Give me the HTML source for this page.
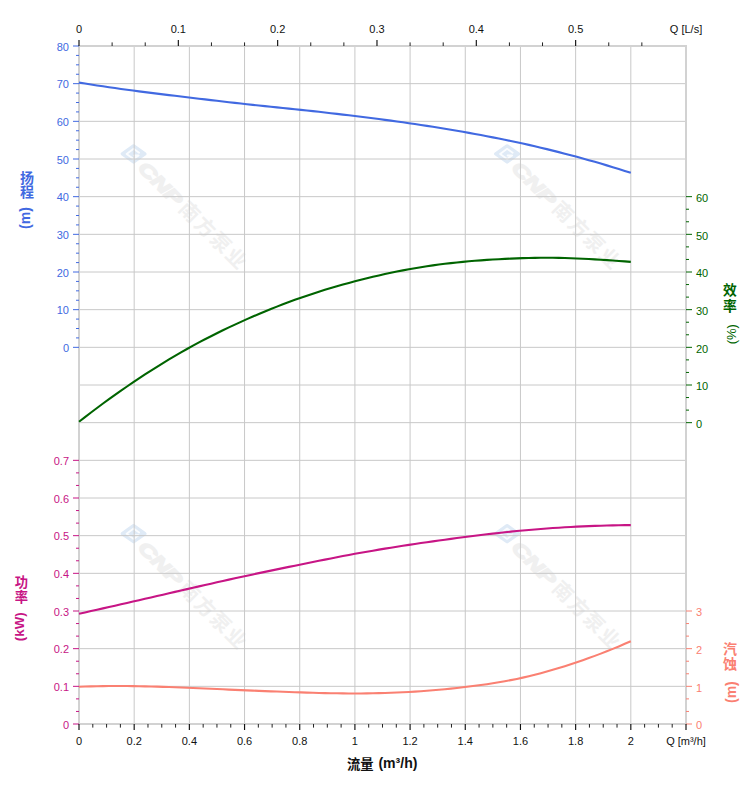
<!DOCTYPE html>
<html><head><meta charset="utf-8"><title>Pump curve</title>
<style>html,body{margin:0;padding:0;background:#fff}body{width:752px;height:797px;overflow:hidden}svg{display:block}text{font-family:"Liberation Sans","Noto Sans CJK SC",sans-serif}</style></head><body>
<svg width="752" height="797" viewBox="0 0 752 797">
<rect width="752" height="797" fill="#ffffff"/>
<g transform="translate(133.6,153.9)"><path d="M-11.2,0L0,-7.9L11.2,0L0,7.9Z" fill="#dfeaf6" stroke="#dfeaf6" stroke-width="3.6" stroke-linejoin="round"/><path d="M5.5,-1.2L0,-5.2L-7,0L0,5.2L5,1.6H0.5" fill="none" stroke="#ffffff" stroke-width="1.9" stroke-linejoin="round" stroke-linecap="round" opacity="0.85"/></g><g transform="translate(133.6,153.9) rotate(45)"><text x="13" y="8.2" font-size="18" font-weight="bold" font-style="italic" fill="#f0f0f0" stroke="#f0f0f0" stroke-width="1.5" textLength="54" lengthAdjust="spacingAndGlyphs">CNP</text><text x="70.6" y="8.4" font-size="20" font-weight="bold" fill="#f0f0f0" letter-spacing="1.9">南方泵业</text></g>
<g transform="translate(507.1,153.9)"><path d="M-11.2,0L0,-7.9L11.2,0L0,7.9Z" fill="#dfeaf6" stroke="#dfeaf6" stroke-width="3.6" stroke-linejoin="round"/><path d="M5.5,-1.2L0,-5.2L-7,0L0,5.2L5,1.6H0.5" fill="none" stroke="#ffffff" stroke-width="1.9" stroke-linejoin="round" stroke-linecap="round" opacity="0.85"/></g><g transform="translate(507.1,153.9) rotate(45)"><text x="13" y="8.2" font-size="18" font-weight="bold" font-style="italic" fill="#f0f0f0" stroke="#f0f0f0" stroke-width="1.5" textLength="54" lengthAdjust="spacingAndGlyphs">CNP</text><text x="70.6" y="8.4" font-size="20" font-weight="bold" fill="#f0f0f0" letter-spacing="1.9">南方泵业</text></g>
<g transform="translate(133.6,533.7)"><path d="M-11.2,0L0,-7.9L11.2,0L0,7.9Z" fill="#dfeaf6" stroke="#dfeaf6" stroke-width="3.6" stroke-linejoin="round"/><path d="M5.5,-1.2L0,-5.2L-7,0L0,5.2L5,1.6H0.5" fill="none" stroke="#ffffff" stroke-width="1.9" stroke-linejoin="round" stroke-linecap="round" opacity="0.85"/></g><g transform="translate(133.6,533.7) rotate(45)"><text x="13" y="8.2" font-size="18" font-weight="bold" font-style="italic" fill="#f0f0f0" stroke="#f0f0f0" stroke-width="1.5" textLength="54" lengthAdjust="spacingAndGlyphs">CNP</text><text x="70.6" y="8.4" font-size="20" font-weight="bold" fill="#f0f0f0" letter-spacing="1.9">南方泵业</text></g>
<g transform="translate(507.1,533.7)"><path d="M-11.2,0L0,-7.9L11.2,0L0,7.9Z" fill="#dfeaf6" stroke="#dfeaf6" stroke-width="3.6" stroke-linejoin="round"/><path d="M5.5,-1.2L0,-5.2L-7,0L0,5.2L5,1.6H0.5" fill="none" stroke="#ffffff" stroke-width="1.9" stroke-linejoin="round" stroke-linecap="round" opacity="0.85"/></g><g transform="translate(507.1,533.7) rotate(45)"><text x="13" y="8.2" font-size="18" font-weight="bold" font-style="italic" fill="#f0f0f0" stroke="#f0f0f0" stroke-width="1.5" textLength="54" lengthAdjust="spacingAndGlyphs">CNP</text><text x="70.6" y="8.4" font-size="20" font-weight="bold" fill="#f0f0f0" letter-spacing="1.9">南方泵业</text></g>
<path d="M79.0,83.67H686.0M79.0,121.33H686.0M79.0,159.00H686.0M79.0,196.67H686.0M79.0,234.33H686.0M79.0,272.00H686.0M79.0,309.67H686.0M79.0,347.33H686.0M79.0,385.00H686.0M79.0,422.67H686.0M79.0,460.33H686.0M79.0,498.00H686.0M79.0,535.67H686.0M79.0,573.33H686.0M79.0,611.00H686.0M79.0,648.67H686.0M79.0,686.33H686.0M134.18,46.0V724.0M189.36,46.0V724.0M244.55,46.0V724.0M299.73,46.0V724.0M354.91,46.0V724.0M410.09,46.0V724.0M465.27,46.0V724.0M520.45,46.0V724.0M575.64,46.0V724.0M630.82,46.0V724.0" stroke="#c8c8c8" stroke-width="1" fill="none"/>
<rect x="79.0" y="46.0" width="607.0" height="678.0" fill="none" stroke="#d2d2d2" stroke-width="2"/>
<path d="M79.0,46.00h-6M79.0,55.42h-3M79.0,64.83h-3M79.0,74.25h-3M79.0,83.67h-6M79.0,93.08h-3M79.0,102.50h-3M79.0,111.92h-3M79.0,121.33h-6M79.0,130.75h-3M79.0,140.17h-3M79.0,149.58h-3M79.0,159.00h-6M79.0,168.42h-3M79.0,177.83h-3M79.0,187.25h-3M79.0,196.67h-6M79.0,206.08h-3M79.0,215.50h-3M79.0,224.92h-3M79.0,234.33h-6M79.0,243.75h-3M79.0,253.17h-3M79.0,262.58h-3M79.0,272.00h-6M79.0,281.42h-3M79.0,290.83h-3M79.0,300.25h-3M79.0,309.67h-6M79.0,319.08h-3M79.0,328.50h-3M79.0,337.92h-3M79.0,347.33h-6" stroke="#4169e1" stroke-width="1" fill="none"/>
<path d="M79.0,460.33h-6M79.0,472.89h-3M79.0,485.44h-3M79.0,498.00h-6M79.0,510.56h-3M79.0,523.11h-3M79.0,535.67h-6M79.0,548.22h-3M79.0,560.78h-3M79.0,573.33h-6M79.0,585.89h-3M79.0,598.44h-3M79.0,611.00h-6M79.0,623.56h-3M79.0,636.11h-3M79.0,648.67h-6M79.0,661.22h-3M79.0,673.78h-3M79.0,686.33h-6M79.0,698.89h-3M79.0,711.44h-3M79.0,724.00h-6" stroke="#c71585" stroke-width="1" fill="none"/>
<path d="M686.0,196.67h6M686.0,209.22h3M686.0,221.78h3M686.0,234.33h6M686.0,246.89h3M686.0,259.44h3M686.0,272.00h6M686.0,284.56h3M686.0,297.11h3M686.0,309.67h6M686.0,322.22h3M686.0,334.78h3M686.0,347.33h6M686.0,359.89h3M686.0,372.44h3M686.0,385.00h6M686.0,397.56h3M686.0,410.11h3M686.0,422.67h6" stroke="#006400" stroke-width="1" fill="none"/>
<path d="M686.0,611.00h6M686.0,623.56h3M686.0,636.11h3M686.0,648.67h6M686.0,661.22h3M686.0,673.78h3M686.0,686.33h6M686.0,698.89h3M686.0,711.44h3M686.0,724.00h6" stroke="#fa8072" stroke-width="1" fill="none"/>
<path d="M79.00,724.0v6M134.18,724.0v6M189.36,724.0v6M244.55,724.0v6M299.73,724.0v6M354.91,724.0v6M410.09,724.0v6M465.27,724.0v6M520.45,724.0v6M575.64,724.0v6M630.82,724.0v6M686.00,724.0v6M79.00,46.0v-6M178.33,46.0v-6M277.65,46.0v-6M376.98,46.0v-6M476.31,46.0v-6M575.64,46.0v-6" stroke="#111" stroke-width="1.15" fill="none"/>
<path d="M92.80,724.0v3.6M106.59,724.0v3.6M120.39,724.0v3.6M147.98,724.0v3.6M161.77,724.0v3.6M175.57,724.0v3.6M203.16,724.0v3.6M216.95,724.0v3.6M230.75,724.0v3.6M258.34,724.0v3.6M272.14,724.0v3.6M285.93,724.0v3.6M313.52,724.0v3.6M327.32,724.0v3.6M341.11,724.0v3.6M368.70,724.0v3.6M382.50,724.0v3.6M396.30,724.0v3.6M423.89,724.0v3.6M437.68,724.0v3.6M451.48,724.0v3.6M479.07,724.0v3.6M492.86,724.0v3.6M506.66,724.0v3.6M534.25,724.0v3.6M548.05,724.0v3.6M561.84,724.0v3.6M589.43,724.0v3.6M603.23,724.0v3.6M617.02,724.0v3.6M644.61,724.0v3.6M658.41,724.0v3.6M672.20,724.0v3.6M112.11,46.0v-3.6M145.22,46.0v-3.6M211.44,46.0v-3.6M244.55,46.0v-3.6M310.76,46.0v-3.6M343.87,46.0v-3.6M410.09,46.0v-3.6M443.20,46.0v-3.6M509.42,46.0v-3.6M542.53,46.0v-3.6M608.75,46.0v-3.6M641.85,46.0v-3.6" stroke="#222" stroke-width="1" fill="none"/>
<path d="M79.0,82.60L85.0,83.56L91.0,84.51L97.0,85.43L103.0,86.33L109.0,87.21L115.0,88.08L121.0,88.92L127.0,89.75L133.0,90.55L139.0,91.34L145.0,92.12L151.0,92.88L157.0,93.62L163.0,94.36L169.0,95.09L175.0,95.81L181.0,96.53L187.0,97.25L193.0,97.97L199.0,98.69L205.0,99.41L211.0,100.12L216.9,100.83L222.9,101.53L228.9,102.22L234.9,102.90L240.9,103.57L246.9,104.23L252.9,104.87L258.9,105.50L264.9,106.12L270.9,106.74L276.9,107.36L282.9,107.97L288.9,108.59L294.9,109.22L300.9,109.85L306.9,110.50L312.9,111.16L318.9,111.83L324.9,112.51L330.9,113.20L336.9,113.90L342.9,114.61L348.9,115.32L354.9,116.05L360.9,116.79L366.9,117.54L372.9,118.30L378.9,119.07L384.9,119.86L390.9,120.66L396.9,121.48L402.9,122.32L408.9,123.18L414.9,124.06L420.9,124.96L426.9,125.88L432.9,126.83L438.9,127.79L444.9,128.78L450.9,129.78L456.9,130.80L462.9,131.84L468.9,132.90L474.9,133.98L480.9,135.08L486.9,136.20L492.8,137.35L498.8,138.52L504.8,139.73L510.8,140.97L516.8,142.24L522.8,143.54L528.8,144.89L534.8,146.26L540.8,147.68L546.8,149.13L552.8,150.61L558.8,152.12L564.8,153.67L570.8,155.24L576.8,156.85L582.8,158.49L588.8,160.16L594.8,161.86L600.8,163.60L606.8,165.37L612.8,167.18L618.8,169.03L624.8,170.92L630.8,172.85" stroke="#4169e1" stroke-width="2.1" fill="none" stroke-linecap="butt" stroke-linejoin="round"/>
<path d="M79.0,421.77L85.0,417.10L91.0,412.50L97.0,407.97L103.0,403.53L109.0,399.16L115.0,394.87L121.0,390.64L127.0,386.49L133.0,382.41L139.0,378.40L145.0,374.46L151.0,370.60L157.0,366.80L163.0,363.08L169.0,359.44L175.0,355.88L181.0,352.39L187.0,348.99L193.0,345.68L199.0,342.44L205.0,339.28L211.0,336.20L216.9,333.19L222.9,330.26L228.9,327.39L234.9,324.58L240.9,321.84L246.9,319.16L252.9,316.53L258.9,313.96L264.9,311.45L270.9,309.00L276.9,306.62L282.9,304.29L288.9,302.03L294.9,299.84L300.9,297.71L306.9,295.65L312.9,293.66L318.9,291.72L324.9,289.85L330.9,288.03L336.9,286.28L342.9,284.57L348.9,282.92L354.9,281.32L360.9,279.76L366.9,278.26L372.9,276.80L378.9,275.40L384.9,274.05L390.9,272.76L396.9,271.52L402.9,270.35L408.9,269.23L414.9,268.18L420.9,267.19L426.9,266.26L432.9,265.39L438.9,264.57L444.9,263.81L450.9,263.10L456.9,262.45L462.9,261.85L468.9,261.29L474.9,260.79L480.9,260.33L486.9,259.91L492.8,259.53L498.8,259.19L504.8,258.89L510.8,258.62L516.8,258.38L522.8,258.17L528.8,257.99L534.8,257.86L540.8,257.78L546.8,257.76L552.8,257.81L558.8,257.91L564.8,258.07L570.8,258.27L576.8,258.51L582.8,258.77L588.8,259.06L594.8,259.37L600.8,259.72L606.8,260.09L612.8,260.50L618.8,260.93L624.8,261.40L630.8,261.90" stroke="#006400" stroke-width="2.1" fill="none" stroke-linecap="butt" stroke-linejoin="round"/>
<path d="M79.0,613.77L85.0,612.43L91.0,611.09L97.0,609.74L103.0,608.39L109.0,607.03L115.0,605.68L121.0,604.31L127.0,602.95L133.0,601.58L139.0,600.20L145.0,598.82L151.0,597.43L157.0,596.05L163.0,594.66L169.0,593.27L175.0,591.89L181.0,590.50L187.0,589.12L193.0,587.75L199.0,586.37L205.0,585.01L211.0,583.65L216.9,582.30L222.9,580.96L228.9,579.63L234.9,578.31L240.9,577.00L246.9,575.70L252.9,574.42L258.9,573.15L264.9,571.88L270.9,570.63L276.9,569.38L282.9,568.14L288.9,566.90L294.9,565.67L300.9,564.45L306.9,563.22L312.9,562.01L318.9,560.80L324.9,559.60L330.9,558.41L336.9,557.24L342.9,556.09L348.9,554.95L354.9,553.84L360.9,552.76L366.9,551.70L372.9,550.66L378.9,549.65L384.9,548.65L390.9,547.68L396.9,546.73L402.9,545.79L408.9,544.87L414.9,543.97L420.9,543.08L426.9,542.21L432.9,541.35L438.9,540.51L444.9,539.68L450.9,538.87L456.9,538.07L462.9,537.29L468.9,536.52L474.9,535.77L480.9,535.03L486.9,534.31L492.8,533.61L498.8,532.93L504.8,532.28L510.8,531.65L516.8,531.05L522.8,530.48L528.8,529.94L534.8,529.43L540.8,528.95L546.8,528.50L552.8,528.07L558.8,527.68L564.8,527.31L570.8,526.97L576.8,526.65L582.8,526.37L588.8,526.11L594.8,525.88L600.8,525.68L606.8,525.50L612.8,525.36L618.8,525.25L624.8,525.16L630.8,525.11" stroke="#c71585" stroke-width="2.1" fill="none" stroke-linecap="butt" stroke-linejoin="round"/>
<path d="M79.0,686.69L85.0,686.50L91.0,686.34L97.0,686.21L103.0,686.12L109.0,686.06L115.0,686.03L121.0,686.04L127.0,686.07L133.0,686.14L139.0,686.23L145.0,686.35L151.0,686.50L157.0,686.66L163.0,686.85L169.0,687.05L175.0,687.27L181.0,687.51L187.0,687.75L193.0,688.00L199.0,688.25L205.0,688.51L211.0,688.78L216.9,689.05L222.9,689.31L228.9,689.58L234.9,689.84L240.9,690.10L246.9,690.36L252.9,690.61L258.9,690.86L264.9,691.09L270.9,691.33L276.9,691.55L282.9,691.77L288.9,691.99L294.9,692.19L300.9,692.39L306.9,692.58L312.9,692.76L318.9,692.93L324.9,693.08L330.9,693.20L336.9,693.31L342.9,693.39L348.9,693.44L354.9,693.45L360.9,693.44L366.9,693.38L372.9,693.29L378.9,693.16L384.9,693.00L390.9,692.79L396.9,692.55L402.9,692.27L408.9,691.95L414.9,691.58L420.9,691.18L426.9,690.74L432.9,690.26L438.9,689.74L444.9,689.18L450.9,688.59L456.9,687.95L462.9,687.28L468.9,686.57L474.9,685.82L480.9,685.03L486.9,684.18L492.8,683.27L498.8,682.30L504.8,681.25L510.8,680.13L516.8,678.92L522.8,677.62L528.8,676.23L534.8,674.75L540.8,673.18L546.8,671.53L552.8,669.81L558.8,668.01L564.8,666.14L570.8,664.21L576.8,662.22L582.8,660.17L588.8,658.05L594.8,655.87L600.8,653.62L606.8,651.29L612.8,648.89L618.8,646.41L624.8,643.84L630.8,641.18" stroke="#fa8072" stroke-width="2.1" fill="none" stroke-linecap="butt" stroke-linejoin="round"/>
<text x="69" y="50.80" font-size="11" fill="#4169e1" text-anchor="end" font-weight="normal">80</text>
<text x="69" y="88.47" font-size="11" fill="#4169e1" text-anchor="end" font-weight="normal">70</text>
<text x="69" y="126.13" font-size="11" fill="#4169e1" text-anchor="end" font-weight="normal">60</text>
<text x="69" y="163.80" font-size="11" fill="#4169e1" text-anchor="end" font-weight="normal">50</text>
<text x="69" y="201.47" font-size="11" fill="#4169e1" text-anchor="end" font-weight="normal">40</text>
<text x="69" y="239.13" font-size="11" fill="#4169e1" text-anchor="end" font-weight="normal">30</text>
<text x="69" y="276.80" font-size="11" fill="#4169e1" text-anchor="end" font-weight="normal">20</text>
<text x="69" y="314.47" font-size="11" fill="#4169e1" text-anchor="end" font-weight="normal">10</text>
<text x="69" y="352.13" font-size="11" fill="#4169e1" text-anchor="end" font-weight="normal">0</text>
<text x="69" y="465.13" font-size="11" fill="#c71585" text-anchor="end" font-weight="normal">0.7</text>
<text x="69" y="502.80" font-size="11" fill="#c71585" text-anchor="end" font-weight="normal">0.6</text>
<text x="69" y="540.47" font-size="11" fill="#c71585" text-anchor="end" font-weight="normal">0.5</text>
<text x="69" y="578.13" font-size="11" fill="#c71585" text-anchor="end" font-weight="normal">0.4</text>
<text x="69" y="615.80" font-size="11" fill="#c71585" text-anchor="end" font-weight="normal">0.3</text>
<text x="69" y="653.47" font-size="11" fill="#c71585" text-anchor="end" font-weight="normal">0.2</text>
<text x="69" y="691.13" font-size="11" fill="#c71585" text-anchor="end" font-weight="normal">0.1</text>
<text x="69" y="728.80" font-size="11" fill="#c71585" text-anchor="end" font-weight="normal">0</text>
<text x="696.0" y="202.07" font-size="11" fill="#006400" text-anchor="start" font-weight="normal">60</text>
<text x="696.0" y="239.73" font-size="11" fill="#006400" text-anchor="start" font-weight="normal">50</text>
<text x="696.0" y="277.40" font-size="11" fill="#006400" text-anchor="start" font-weight="normal">40</text>
<text x="696.0" y="315.07" font-size="11" fill="#006400" text-anchor="start" font-weight="normal">30</text>
<text x="696.0" y="352.73" font-size="11" fill="#006400" text-anchor="start" font-weight="normal">20</text>
<text x="696.0" y="390.40" font-size="11" fill="#006400" text-anchor="start" font-weight="normal">10</text>
<text x="696.0" y="428.07" font-size="11" fill="#006400" text-anchor="start" font-weight="normal">0</text>
<text x="696.0" y="616.40" font-size="11" fill="#fa8072" text-anchor="start" font-weight="normal">3</text>
<text x="696.0" y="654.07" font-size="11" fill="#fa8072" text-anchor="start" font-weight="normal">2</text>
<text x="696.0" y="691.73" font-size="11" fill="#fa8072" text-anchor="start" font-weight="normal">1</text>
<text x="696.0" y="729.40" font-size="11" fill="#fa8072" text-anchor="start" font-weight="normal">0</text>
<text x="79.0" y="745.00" font-size="11" fill="#111111" text-anchor="middle" font-weight="normal">0</text>
<text x="134.18" y="745.00" font-size="11" fill="#111111" text-anchor="middle" font-weight="normal">0.2</text>
<text x="189.36" y="745.00" font-size="11" fill="#111111" text-anchor="middle" font-weight="normal">0.4</text>
<text x="244.55" y="745.00" font-size="11" fill="#111111" text-anchor="middle" font-weight="normal">0.6</text>
<text x="299.73" y="745.00" font-size="11" fill="#111111" text-anchor="middle" font-weight="normal">0.8</text>
<text x="354.91" y="745.00" font-size="11" fill="#111111" text-anchor="middle" font-weight="normal">1</text>
<text x="410.09" y="745.00" font-size="11" fill="#111111" text-anchor="middle" font-weight="normal">1.2</text>
<text x="465.27" y="745.00" font-size="11" fill="#111111" text-anchor="middle" font-weight="normal">1.4</text>
<text x="520.45" y="745.00" font-size="11" fill="#111111" text-anchor="middle" font-weight="normal">1.6</text>
<text x="575.64" y="745.00" font-size="11" fill="#111111" text-anchor="middle" font-weight="normal">1.8</text>
<text x="630.82" y="745.00" font-size="11" fill="#111111" text-anchor="middle" font-weight="normal">2</text>
<text x="686" y="745.00" font-size="11" fill="#111111" text-anchor="middle" font-weight="normal">Q [m³/h]</text>
<text x="79.0" y="33.00" font-size="11" fill="#111111" text-anchor="middle" font-weight="normal">0</text>
<text x="178.33" y="33.00" font-size="11" fill="#111111" text-anchor="middle" font-weight="normal">0.1</text>
<text x="277.65" y="33.00" font-size="11" fill="#111111" text-anchor="middle" font-weight="normal">0.2</text>
<text x="376.98" y="33.00" font-size="11" fill="#111111" text-anchor="middle" font-weight="normal">0.3</text>
<text x="476.31" y="33.00" font-size="11" fill="#111111" text-anchor="middle" font-weight="normal">0.4</text>
<text x="575.64" y="33.00" font-size="11" fill="#111111" text-anchor="middle" font-weight="normal">0.5</text>
<text x="686" y="33.00" font-size="11" fill="#111111" text-anchor="middle" font-weight="normal">Q [L/s]</text>
<text x="20" y="182.52" font-size="14" font-weight="bold" fill="#4169e1">扬</text>
<text x="20" y="197.12" font-size="14" font-weight="bold" fill="#4169e1">程</text>
<text transform="translate(29.7,228.9) rotate(-90)" font-size="14" font-weight="bold" fill="#4169e1">(m)</text>
<text x="14.85" y="587.45" font-size="13.3" font-weight="bold" fill="#c71585">功</text>
<text x="14.85" y="602.35" font-size="13.3" font-weight="bold" fill="#c71585">率</text>
<text transform="translate(24.1,641.2) rotate(-90)" font-size="13.33" font-weight="bold" fill="#c71585">(kW)</text>
<text x="723.1" y="295.44" font-size="13.8" font-weight="bold" fill="#006400">效</text>
<text x="723.1" y="310.54" font-size="13.8" font-weight="bold" fill="#006400">率</text>
<text transform="translate(736.2,344.3) rotate(-90)" font-size="13.0" font-weight="normal" fill="#006400">(%)</text>
<text x="723" y="653.52" font-size="14" font-weight="bold" fill="#fa8072">汽</text>
<text x="723" y="668.62" font-size="14" font-weight="bold" fill="#fa8072">蚀</text>
<text transform="translate(736.0,703.0) rotate(-90)" font-size="14" font-weight="bold" fill="#fa8072">(m)</text>
<text x="347" y="769" font-size="13.33" font-weight="bold" fill="#111">流量</text>
<text x="378.4" y="767.70" font-size="14.1" fill="#111" text-anchor="start" font-weight="bold">(m³/h)</text>
</svg></body></html>
